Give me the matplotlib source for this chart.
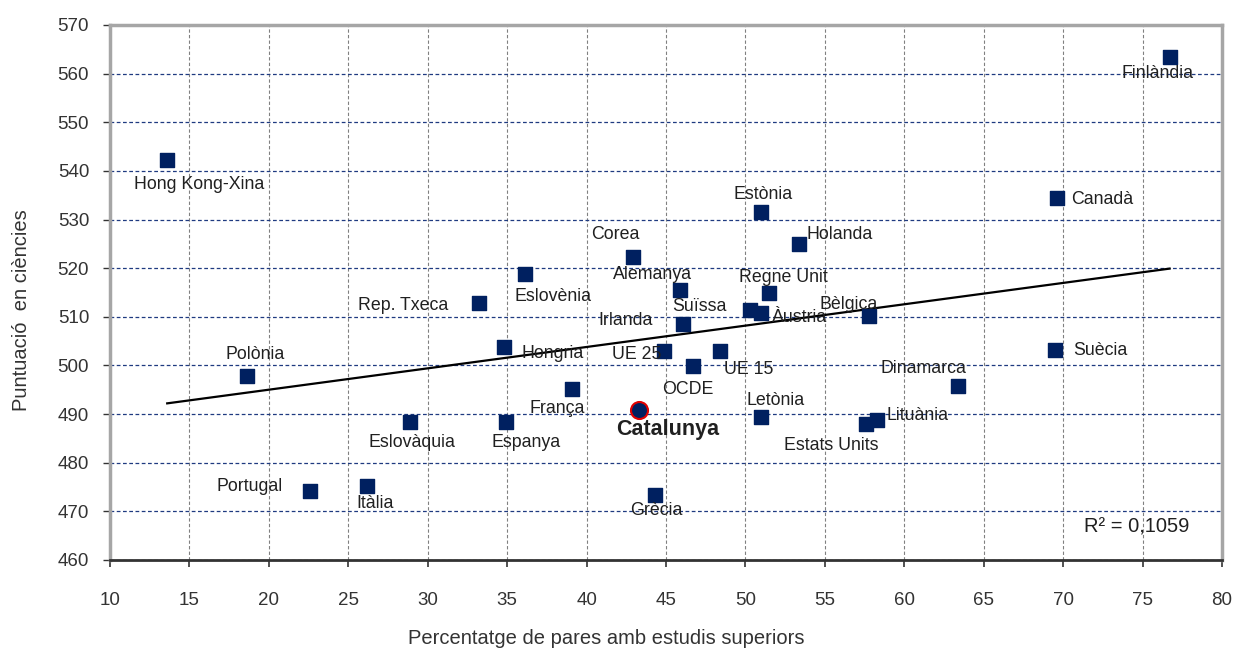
import numpy as np
import matplotlib
matplotlib.use("Agg")
import matplotlib.pyplot as plt

plt.rcParams['font.family'] = ['Liberation Sans', 'DejaVu Sans']

NAVY = "#002060"

# data: % parents with higher education vs science score
countries = ["Hong Kong-Xina", "Finlàndia", "Canadà", "Estònia", "Holanda", "Corea",
             "Eslovènia", "Alemanya", "Regne Unit", "Rep. Txeca", "Suïssa", "Àustria",
             "Irlanda", "Bèlgica", "Hongria", "UE 25", "UE 15", "OCDE", "Suècia",
             "Polònia", "Dinamarca", "França", "Letònia", "Eslovàquia", "Espanya",
             "Estats Units", "Lituània", "Portugal", "Itàlia", "Grècia"]
pct_parents = [13.6, 76.7, 69.6, 51.0, 53.4, 42.9,
               36.1, 45.9, 51.5, 33.2, 50.3, 51.0,
               46.1, 57.8, 34.8, 44.9, 48.4, 46.7, 69.5,
               18.6, 63.4, 39.1, 51.0, 28.9, 34.9,
               57.6, 58.3, 22.6, 26.2, 44.3]
science = [542.2, 563.4, 534.4, 531.5, 524.9, 522.3,
           518.8, 515.6, 514.9, 512.8, 511.4, 510.8,
           508.5, 510.1, 503.7, 502.9, 502.9, 499.8, 503.1,
           497.8, 495.7, 495.1, 489.3, 488.3, 488.3,
           487.9, 488.7, 474.1, 475.3, 473.3]

cat_name = "Catalunya"
cat_pct = [43.3]
cat_score = [490.8]

r2_text = "R² = 0,1059"

# label offsets in pixels (dx, dy) and horizontal alignment
label_pos = {
    "Hong Kong-Xina": (32, -24, "center"), "Finlàndia": (-12, -16, "center"),
    "Canadà": (14, -1, "left"), "Estònia": (2, 18, "center"),
    "Holanda": (7, 10, "left"), "Corea": (-17, 22, "center"),
    "Eslovènia": (28, -22, "center"), "Alemanya": (-28, 15, "center"),
    "Regne Unit": (14, 15, "center"), "Rep. Txeca": (-30, -2, "right"),
    "Suïssa": (-51, 4, "center"), "Àustria": (38, -5, "center"),
    "Irlanda": (-58, 4, "center"), "Bèlgica": (-21, 12, "center"),
    "Hongria": (49, -6, "center"), "UE 25": (-28, -3, "center"),
    "UE 15": (29, -18, "center"), "OCDE": (-5, -23, "center"),
    "Suècia": (18, 0, "left"), "Polònia": (9, 22, "center"),
    "Dinamarca": (-35, 18, "center"), "França": (-15, -19, "center"),
    "Letònia": (14, 17, "center"), "Eslovàquia": (2, -20, "center"),
    "Espanya": (20, -20, "center"), "Estats Units": (-35, -21, "center"),
    "Lituània": (9, 5, "left"), "Portugal": (-61, 5, "center"),
    "Itàlia": (8, -18, "center"), "Grècia": (1, -15, "center"),
}

fig = plt.figure(figsize=(12.36, 6.51), dpi=100, facecolor="white")
ax = fig.add_axes([0.089, 0.1398, 0.8997, 0.8218])

ax.set_xlim(10, 80)
ax.set_ylim(460, 570)
ax.set_xticks(np.arange(10, 81, 5))
ax.set_yticks(np.arange(460, 571, 10))

ax.grid(axis="x", color="#808080", linestyle=(0, (3, 2)), linewidth=0.8)
ax.grid(axis="y", color="#1F3A80", linestyle=(0, (3, 2)), linewidth=0.9)
ax.set_axisbelow(True)

# trend line (least squares over the countries)
slope, intercept = np.polyfit(pct_parents, science, 1)
xs = np.array([min(pct_parents), max(pct_parents)])
ax.plot(xs, slope * xs + intercept, color="black", linewidth=1.6, zorder=2)

ax.scatter(pct_parents, science, marker="s", s=110, color=NAVY, zorder=3)
ax.scatter(cat_pct, cat_score, marker="o", s=150, facecolor=NAVY,
           edgecolor="#E00000", linewidth=1.5, zorder=4)

for name, x, y in zip(countries, pct_parents, science):
    dx, dy, ha = label_pos[name]
    ax.annotate(name, (x, y), xytext=(dx, dy), textcoords="offset pixels",
                ha=ha, va="center", fontsize=12.8, color="#202020", zorder=5)

ax.annotate(cat_name, (cat_pct[0], cat_score[0]), xytext=(29, -19),
            textcoords="offset pixels", ha="center", va="center",
            fontsize=15.5, fontweight="bold", color="#202020", zorder=5)

ax.text(0.923, 0.062, r2_text, transform=ax.transAxes, ha="center", va="center",
        fontsize=14.5, color="#202020")

for side in ("left", "top", "right"):
    ax.spines[side].set_color("#A6A6A6")
    ax.spines[side].set_linewidth(2.5)
ax.spines["bottom"].set_color("#333333")
ax.spines["bottom"].set_linewidth(2)

ax.tick_params(axis="x", direction="out", length=5, width=1.2, pad=18,
               labelsize=13.5, colors="#333333")
ax.tick_params(axis="y", direction="out", length=5, width=1.0, pad=10,
               labelsize=13.5, colors="#333333")

ax.set_xlabel("Percentatge de pares amb estudis superiors", fontsize=14.5,
              color="#333333", va="baseline")
ax.xaxis.set_label_coords(0.446, -0.157)
ax.set_ylabel("Puntuació  en ciències", fontsize=14.5, color="#333333")
ax.yaxis.set_label_coords(-0.071, 0.467)

fig.savefig("out.png", dpi=100, facecolor="white")
